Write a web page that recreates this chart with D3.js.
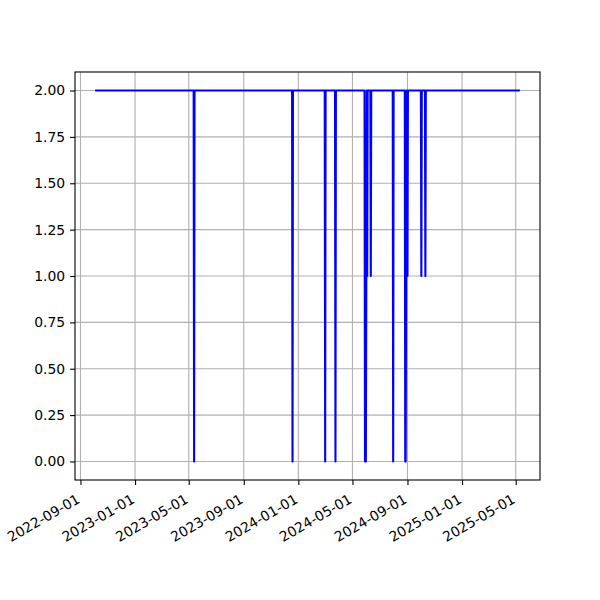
<!DOCTYPE html>
<html>
<head>
<meta charset="utf-8">
<script src="https://cdn.jsdelivr.net/npm/d3@7"></script>
<style>
  html, body { margin: 0; padding: 0; background: #fff; }
  svg { display: block; font-family: "DejaVu Sans", sans-serif; }
</style>
</head>
<body>
<svg id="chart" width="600" height="600"></svg>
<script>
// Vertices of the series (value is 2 between them)
const dates = [
  "2022-10-06",
  "2023-05-12", "2023-05-13", "2023-05-14",
  "2023-12-18", "2023-12-19", "2023-12-20",
  "2024-02-29", "2024-03-01", "2024-03-02",
  "2024-03-23", "2024-03-24", "2024-03-25",
  "2024-05-28", "2024-05-29", "2024-05-30", "2024-05-31", "2024-06-01", "2024-06-02", "2024-06-03", "2024-06-04",
  "2024-06-10", "2024-06-11", "2024-06-12",
  "2024-07-30", "2024-07-31", "2024-08-01",
  "2024-08-26", "2024-08-27", "2024-08-28", "2024-08-29", "2024-08-30", "2024-08-31", "2024-09-01", "2024-09-02",
  "2024-10-01", "2024-10-02", "2024-10-03",
  "2024-10-10", "2024-10-11", "2024-10-12",
  "2025-05-08"
];
const values = [
  2,
  2, 0, 2,
  2, 0, 2,
  2, 0, 2,
  2, 0, 2,
  2, 0, 1, 0, 1, 2, 1, 2,
  2, 1, 2,
  2, 0, 2,
  2, 0, 0, 1, 2, 1, 1, 2,
  2, 1, 2,
  2, 1, 2,
  2
];
const yTicks = [0, 0.25, 0.5, 0.75, 1.0, 1.25, 1.5, 1.75, 2.0];

const parse = d3.utcParse("%Y-%m-%d");
const data = dates.map((d, i) => ({ date: parse(d), value: values[i] }));

const svg = d3.select("#chart");
const L = 75, R = 540, T = 72, B = 480;

const ext = d3.extent(data, d => d.date);
const span = ext[1] - ext[0];
const x = d3.scaleUtc()
  .domain([new Date(+ext[0] - 0.05 * span), new Date(+ext[1] + 0.05 * span)])
  .range([L, R]);
const yExt = d3.extent(values);
const ySpan = yExt[1] - yExt[0];
const y = d3.scaleLinear()
  .domain([yExt[0] - 0.05 * ySpan, yExt[1] + 0.05 * ySpan])
  .range([B, T]);

const xTicks = x.ticks(d3.utcMonth.every(4));
const fmtX = d3.utcFormat("%Y-%m-%d");

// grid
const g = svg.append("g");
g.selectAll("line.gx").data(xTicks).join("line")
  .attr("x1", d => x(d)).attr("x2", d => x(d))
  .attr("y1", T).attr("y2", B)
  .attr("stroke", "#b0b0b0").attr("stroke-width", 1.1);
g.selectAll("line.gy").data(yTicks).join("line")
  .attr("x1", L).attr("x2", R)
  .attr("y1", d => y(d)).attr("y2", d => y(d))
  .attr("stroke", "#b0b0b0").attr("stroke-width", 1.1);

// clip
svg.append("clipPath").attr("id", "clip")
  .append("rect").attr("x", L).attr("y", T).attr("width", R - L).attr("height", B - T);

const line = d3.line().x(d => x(d.date)).y(d => y(d.value));
svg.append("path").datum(data)
  .attr("clip-path", "url(#clip)")
  .attr("d", line)
  .attr("fill", "none")
  .attr("stroke", "#0000ff")
  .attr("stroke-width", 2.08)
  .attr("stroke-linejoin", "round")
  .attr("stroke-linecap", "square");

// frame
svg.append("rect").attr("x", L).attr("y", T).attr("width", R - L).attr("height", B - T)
  .attr("fill", "none").attr("stroke", "#000").attr("stroke-width", 1.1);

// x axis
const xAxis = svg.append("g").attr("transform", `translate(0,${B})`)
  .call(d3.axisBottom(x).tickValues(xTicks).tickFormat(fmtX).tickSizeInner(4.9).tickSizeOuter(0).tickPadding(4.9));
xAxis.select(".domain").remove();
xAxis.selectAll(".tick line").attr("stroke", "#000").attr("stroke-width", 1.1);
xAxis.selectAll(".tick text")
  .attr("font-family", "DejaVu Sans")
  .attr("font-size", "13.9px")
  .attr("fill", "#000")
  .attr("text-anchor", "end")
  .attr("y", 0).attr("dy", 0)
  .attr("transform", "translate(0,22) rotate(-30)");

// y axis
const yAxis = svg.append("g").attr("transform", `translate(${L},0)`)
  .call(d3.axisLeft(y).tickValues(yTicks).tickFormat(d3.format(".2f")).tickSizeInner(4.9).tickSizeOuter(0).tickPadding(4.9));
yAxis.select(".domain").remove();
yAxis.selectAll(".tick line").attr("stroke", "#000").attr("stroke-width", 1.1);
yAxis.selectAll(".tick text")
  .attr("font-family", "DejaVu Sans")
  .attr("font-size", "13.9px")
  .attr("fill", "#000");
</script>
</body>
</html>
